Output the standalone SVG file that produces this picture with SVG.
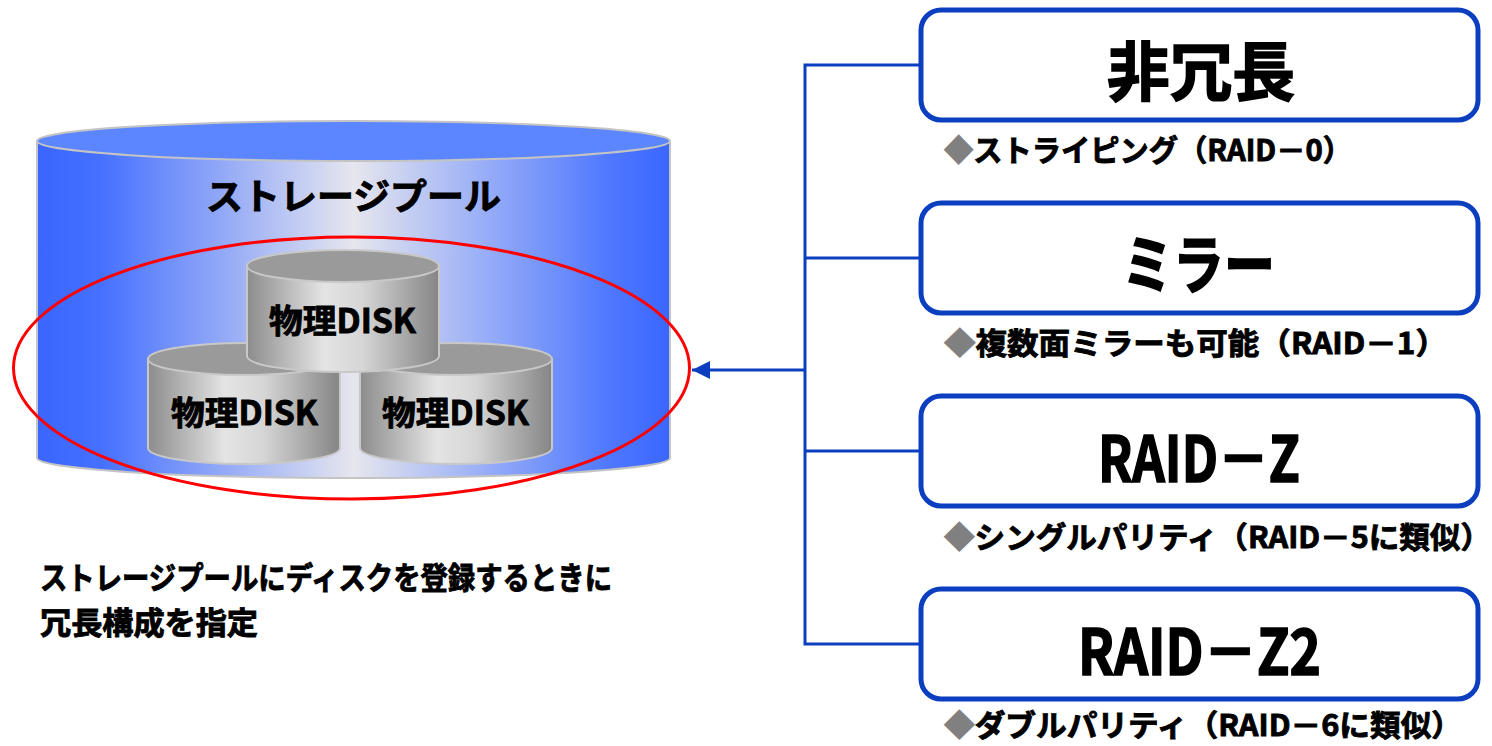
<svg xmlns="http://www.w3.org/2000/svg" width="1492" height="746" viewBox="0 0 1492 746">
  <defs>
    <linearGradient id="poolBody" x1="0" y1="0" x2="1" y2="0">
      <stop offset="0" stop-color="#3a66ff"/>
      <stop offset="0.1" stop-color="#4570ff"/>
      <stop offset="0.5" stop-color="#e6e6ee"/>
      <stop offset="0.9" stop-color="#5079ff"/>
      <stop offset="1" stop-color="#3a66ff"/>
    </linearGradient>
    <linearGradient id="diskBody" x1="0" y1="0" x2="1" y2="0">
      <stop offset="0" stop-color="#8c8c8c"/>
      <stop offset="0.4" stop-color="#e4e4e4"/>
      <stop offset="0.6" stop-color="#d6d6d6"/>
      <stop offset="1" stop-color="#858585"/>
    </linearGradient>
    <marker id="arrowHead" viewBox="0 0 10 10" refX="10" refY="5" markerWidth="7" markerHeight="6" markerUnits="strokeWidth" orient="auto">
      <path d="M0,0 L10,5 L0,10 Z" fill="#0b3fbf"/>
    </marker>
  </defs>
  <style>
    /* heavy gothic lettering: bold face plus a thin outline of the same colour */
    text { font-family: "Noto Sans CJK JP", "Noto Sans", sans-serif; font-weight: bold; fill: #000; stroke: #000; stroke-width: 0.9; }
    .pool { fill: url(#poolBody); stroke: #c4c4c4; stroke-width: 2; }
    .poolTop { fill: #5b86ff; stroke: #c4c4c4; stroke-width: 2; }
    .disk { fill: url(#diskBody); stroke: #c8c8c8; stroke-width: 2; }
    .diskTop { fill: #9a9a9a; stroke: #c8c8c8; stroke-width: 2; }
    .diskLabel { font-size: 33px; }
    .box { fill: #fff; stroke: #0b3fbf; stroke-width: 5; }
    .boxTitle { font-size: 64px; stroke-width: 1.6; }
    .caption { font-size: 30px; }
    .bullet { fill: #808080; stroke: #808080; }
    .wire { fill: none; stroke: #0b3fbf; stroke-width: 3; }
  </style>

  <!-- storage pool cylinder -->
  <g id="storage-pool">
    <path class="pool" d="M37,141 L37,458 A316.5,20 0 0 0 670,458 L670,141 Z"/>
    <ellipse class="poolTop" cx="353.5" cy="141" rx="316.5" ry="20"/>
    <text x="206" y="210" font-size="36" textLength="295" lengthAdjust="spacingAndGlyphs">ストレージプール</text>
  </g>

  <!-- physical disks -->
  <g id="disk-left">
    <path class="disk" d="M148,359 L148,448 A96,16 0 0 0 340,448 L340,359 Z"/>
    <ellipse class="diskTop" cx="244" cy="359" rx="96" ry="16"/>
    <text class="diskLabel" x="171" y="425" textLength="147" lengthAdjust="spacingAndGlyphs">物理DISK</text>
  </g>
  <g id="disk-right">
    <path class="disk" d="M360,359 L360,448 A96,16 0 0 0 552,448 L552,359 Z"/>
    <ellipse class="diskTop" cx="456" cy="359" rx="96" ry="16"/>
    <text class="diskLabel" x="382" y="425" textLength="147" lengthAdjust="spacingAndGlyphs">物理DISK</text>
  </g>
  <g id="disk-top">
    <path class="disk" d="M247,266 L247,356 A96,16 0 0 0 439,356 L439,266 Z"/>
    <ellipse class="diskTop" cx="343" cy="266" rx="96" ry="16"/>
    <text class="diskLabel" x="269" y="333" textLength="147" lengthAdjust="spacingAndGlyphs">物理DISK</text>
  </g>

  <!-- redundancy scope outline -->
  <g id="pool-scope">
    <ellipse cx="351.5" cy="368" rx="338" ry="131" fill="none" stroke="#ff0000" stroke-width="3"/>
  </g>

  <!-- connectors -->
  <g id="connectors">
    <path class="wire" d="M921,65 H805 V644 H921 M805,258 H921 M805,451 H921"/>
    <path class="wire" d="M805,370 H692" marker-end="url(#arrowHead)"/>
  </g>

  <!-- redundancy options -->
  <g id="opt-nonredundant">
    <rect class="box" x="921" y="10" width="557" height="110" rx="20"/>
    <text class="boxTitle" x="1107" y="95" textLength="188" lengthAdjust="spacingAndGlyphs">非冗長</text>
    <text class="caption" x="944" y="161" textLength="408" lengthAdjust="spacingAndGlyphs"><tspan class="bullet">◆</tspan>ストライピング（RAID－0）</text>
  </g>
  <g id="opt-mirror">
    <rect class="box" x="921" y="203" width="557" height="110" rx="20"/>
    <text class="boxTitle" x="1122" y="288" font-size="60" textLength="153" lengthAdjust="spacingAndGlyphs">ミラー</text>
    <text class="caption" x="944" y="354" textLength="503" lengthAdjust="spacingAndGlyphs"><tspan class="bullet">◆</tspan>複数面ミラーも可能（RAID－1）</text>
  </g>
  <g id="opt-raidz">
    <rect class="box" x="921" y="396" width="557" height="110" rx="20"/>
    <text class="boxTitle" x="1098" y="482" font-size="71" textLength="202" lengthAdjust="spacingAndGlyphs">RAID－Z</text>
    <text class="caption" x="944" y="548" textLength="547" lengthAdjust="spacingAndGlyphs"><tspan class="bullet">◆</tspan>シングルパリティ（RAID－5に類似）</text>
  </g>
  <g id="opt-raidz2">
    <rect class="box" x="921" y="589" width="557" height="110" rx="20"/>
    <text class="boxTitle" x="1078" y="675" font-size="71" textLength="243" lengthAdjust="spacingAndGlyphs">RAID－Z2</text>
    <text class="caption" x="944" y="736" textLength="518" lengthAdjust="spacingAndGlyphs"><tspan class="bullet">◆</tspan>ダブルパリティ（RAID－6に類似）</text>
  </g>

  <!-- explanatory note -->
  <g id="note">
    <text x="40" y="589" font-size="31" textLength="572" lengthAdjust="spacingAndGlyphs">ストレージプールにディスクを登録するときに</text>
    <text x="40" y="634" font-size="31" textLength="218" lengthAdjust="spacingAndGlyphs">冗長構成を指定</text>
  </g>
</svg>
